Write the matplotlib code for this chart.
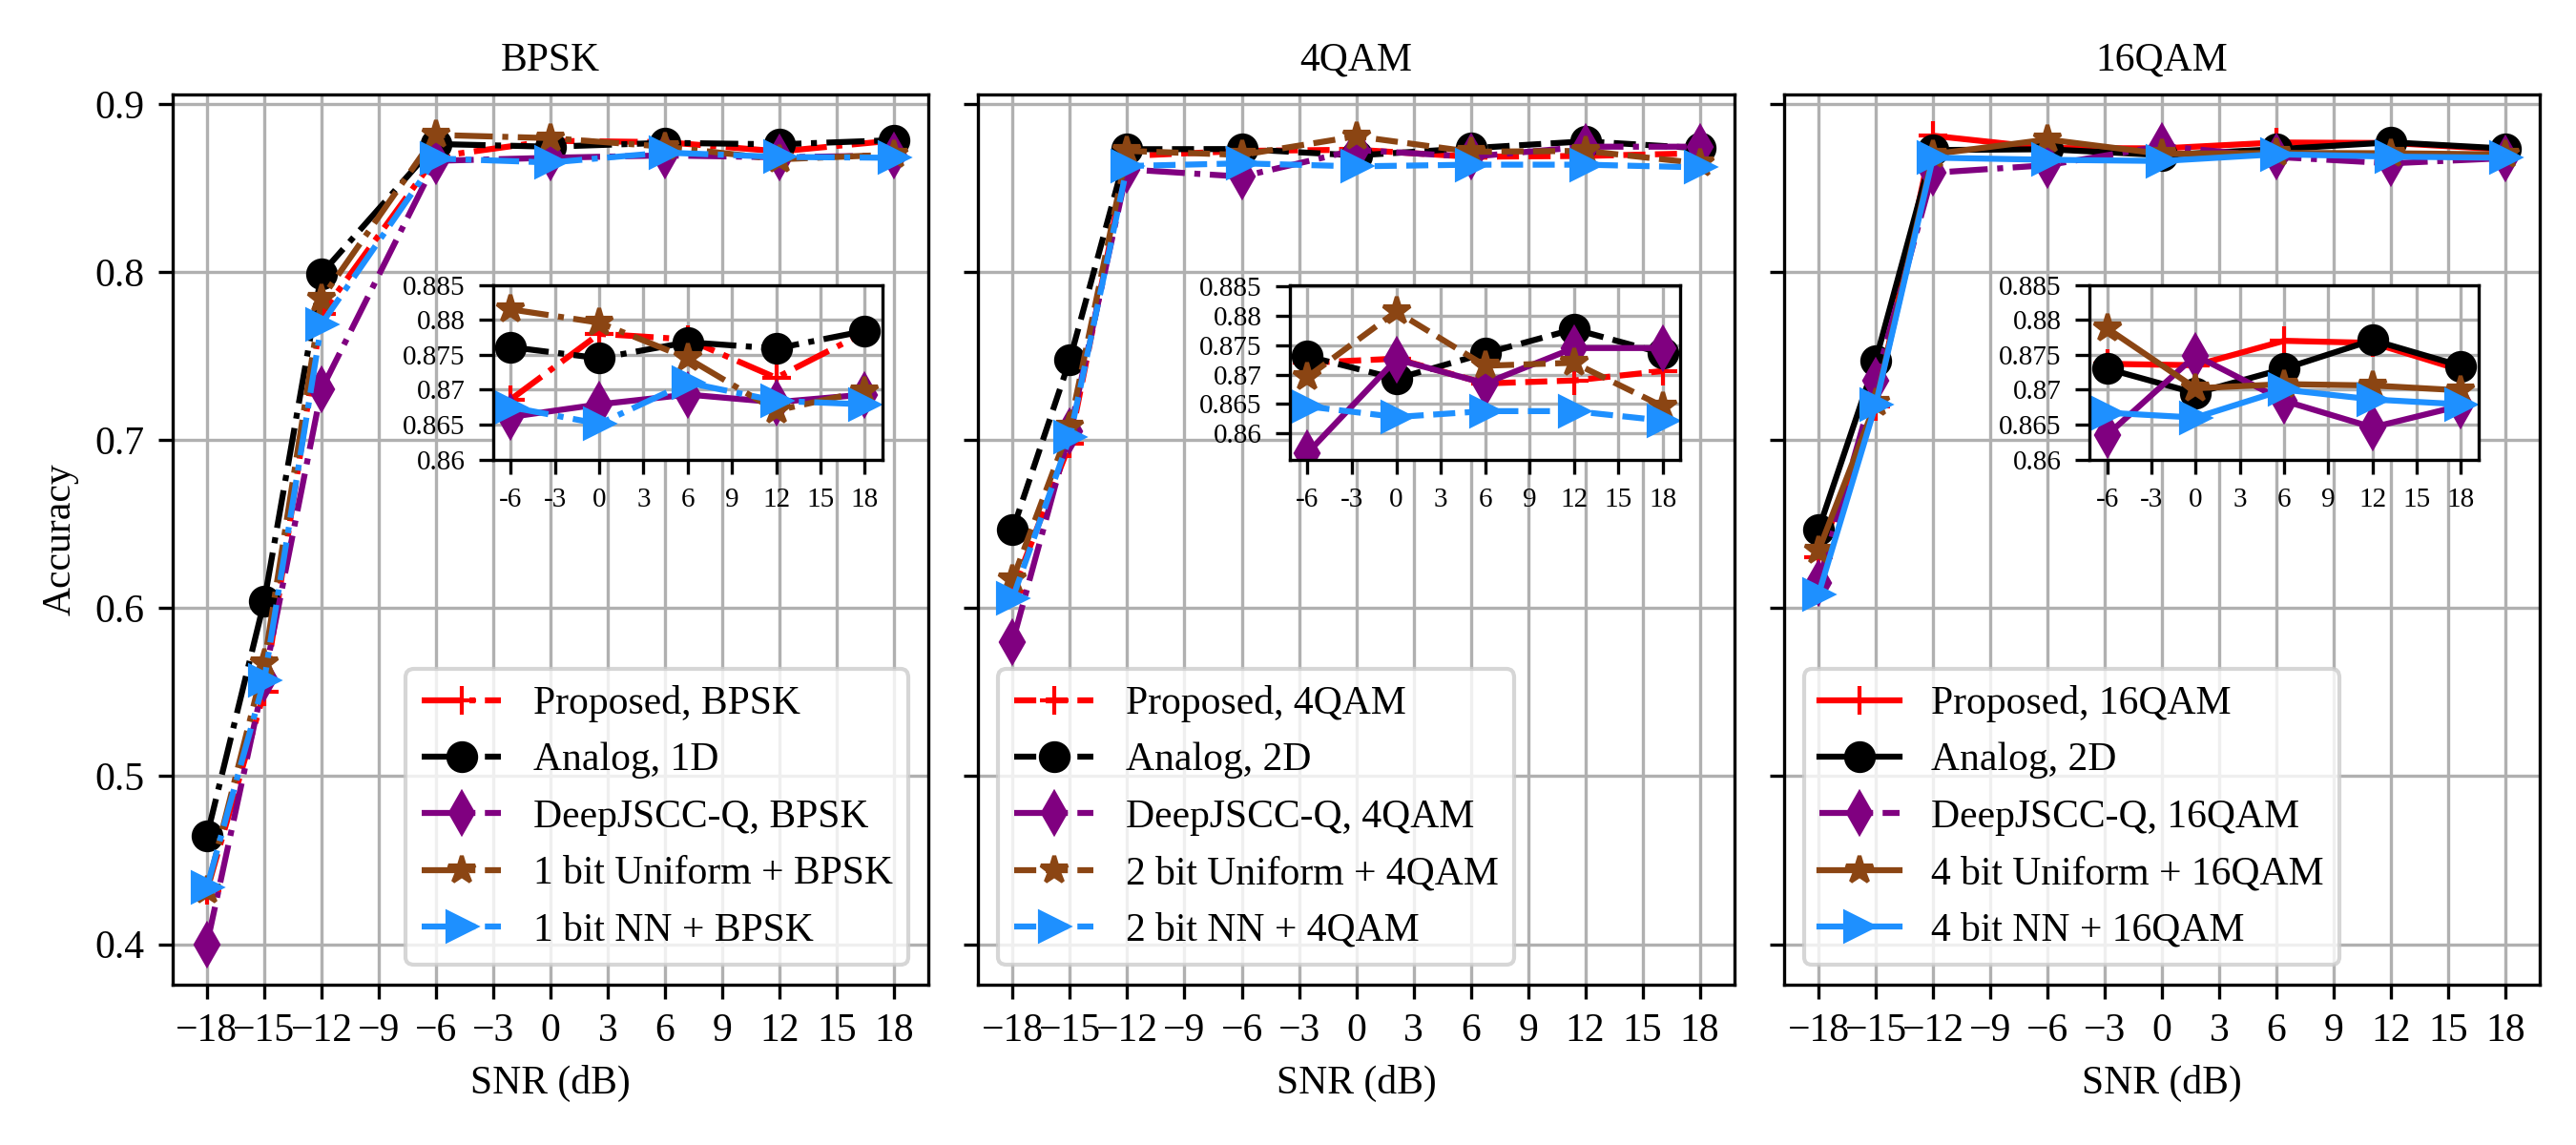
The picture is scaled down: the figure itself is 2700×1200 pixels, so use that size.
import matplotlib
matplotlib.use("Agg")
import matplotlib.pyplot as plt

plt.rcParams['font.family'] = ['Liberation Serif', 'DejaVu Serif']
plt.rcParams['font.size'] = 10

# SNR points (dB)
snr = [-18, -15, -12, -6, 0, 6, 12, 18]
snr_ticks = [-18, -15, -12, -9, -6, -3, 0, 3, 6, 9, 12, 15, 18]
zoom_ticks = [-6, -3, 0, 3, 6, 9, 12, 15, 18]
zoom_tick_labels = ['-6', '-3', '0', '3', '6', '9', '12', '15', '18']
zoom_yticks = [0.86, 0.865, 0.87, 0.875, 0.88, 0.885]
zoom_ytick_labels = ['0.86', '0.865', '0.87', '0.875', '0.88', '0.885']

# --- BPSK ---
proposed_bpsk = [0.432, 0.550, 0.775, 0.8686, 0.8780, 0.8772, 0.8717, 0.8782]
analog_1d = [0.4644, 0.604, 0.799, 0.8761, 0.8745, 0.8768, 0.8759, 0.8784]
deepjscc_bpsk = [0.400, 0.558, 0.730, 0.8661, 0.8679, 0.8693, 0.8682, 0.8693]
uniform_bpsk = [0.432, 0.567, 0.784, 0.8815, 0.8796, 0.8745, 0.8670, 0.8698]
nn_bpsk = [0.434, 0.557, 0.769, 0.8675, 0.8651, 0.8710, 0.8684, 0.8679]

# --- 4QAM ---
proposed_4qam = [0.610, 0.698, 0.869, 0.8720, 0.8727, 0.8685, 0.8690, 0.8706]
analog_2d_4qam = [0.6465, 0.748, 0.8730, 0.8731, 0.8693, 0.8736, 0.8777, 0.8736]
deepjscc_4qam = [0.580, 0.705, 0.861, 0.8567, 0.8726, 0.8685, 0.8745, 0.8745]
uniform_4qam = [0.617, 0.708, 0.872, 0.8696, 0.8807, 0.8715, 0.8720, 0.8646]
nn_4qam = [0.606, 0.702, 0.863, 0.8646, 0.8628, 0.8638, 0.8638, 0.8622]

# --- 16QAM ---
proposed_16qam = [0.630, 0.720, 0.881, 0.8737, 0.8735, 0.8770, 0.8767, 0.8728]
analog_2d_16qam = [0.6465, 0.7474, 0.8725, 0.8730, 0.8695, 0.8730, 0.8771, 0.8734]
deepjscc_16qam = [0.615, 0.735, 0.859, 0.8635, 0.8749, 0.8684, 0.8646, 0.8677]
uniform_16qam = [0.634, 0.722, 0.870, 0.8788, 0.8702, 0.8708, 0.8706, 0.8699]
nn_16qam = [0.608, 0.721, 0.868, 0.8667, 0.8660, 0.8700, 0.8686, 0.8679]

colors = ['red', 'black', 'purple', '#8B4513', '#1E90FF']
markers = ['+', 'o', 'd', '*', '>']

panels = [
    {
        'title': 'BPSK',
        'series': [proposed_bpsk, analog_1d, deepjscc_bpsk, uniform_bpsk, nn_bpsk],
        'labels': ['Proposed, BPSK', 'Analog, 1D', 'DeepJSCC-Q, BPSK',
                   '1 bit Uniform + BPSK', '1 bit NN + BPSK'],
        'styles': ['-.', '-.', '-.', '-.', '-.'],
        'zoom_styles': ['-.', '-.', '-', '-.', '-.'],
        'legend_loc': 'lower right',
        'zoom_box': [0.424, 0.59, 0.515, 0.196],
        'zoom_ylim': (0.86, 0.885),
    },
    {
        'title': '4QAM',
        'series': [proposed_4qam, analog_2d_4qam, deepjscc_4qam, uniform_4qam, nn_4qam],
        'labels': ['Proposed, 4QAM', 'Analog, 2D', 'DeepJSCC-Q, 4QAM',
                   '2 bit Uniform + 4QAM', '2 bit NN + 4QAM'],
        'styles': ['--', '--', '-.', '--', '--'],
        'zoom_styles': ['--', '--', '-', '--', '--'],
        'legend_loc': 'lower left',
        'zoom_box': [0.412, 0.59, 0.517, 0.196],
        'zoom_ylim': (0.8556, 0.8852),
    },
    {
        'title': '16QAM',
        'series': [proposed_16qam, analog_2d_16qam, deepjscc_16qam, uniform_16qam, nn_16qam],
        'labels': ['Proposed, 16QAM', 'Analog, 2D', 'DeepJSCC-Q, 16QAM',
                   '4 bit Uniform + 16QAM', '4 bit NN + 16QAM'],
        'styles': ['-', '-', '-.', '-', '-'],
        'zoom_styles': ['-', '-', '-', '-', '-'],
        'legend_loc': 'lower left',
        'zoom_box': [0.404, 0.59, 0.515, 0.196],
        'zoom_ylim': (0.86, 0.885),
    },
]

fig, axes = plt.subplots(1, 3, figsize=(9, 4), dpi=300, sharey=True)
fig.subplots_adjust(left=0.067, right=0.986, bottom=0.14, top=0.9175, wspace=0.066)

for ax, p in zip(axes, panels):
    for vals, lab, col, mk, ls in zip(p['series'], p['labels'], colors, markers, p['styles']):
        ax.plot(snr, vals, linestyle=ls, marker=mk, color=col, label=lab,
                linewidth=1.5, markersize=7)
    ax.set_title(p['title'], fontsize=10)
    ax.set_xticks(snr_ticks)
    ax.set_xlabel('SNR (dB)')
    ax.grid(True)
    ax.legend(loc=p['legend_loc'])

    # zoomed view of the high-SNR region
    axin = ax.inset_axes(p['zoom_box'])
    for vals, col, mk, ls in zip(p['series'], colors, markers, p['zoom_styles']):
        axin.plot(snr[3:], vals[3:], linestyle=ls, marker=mk, color=col,
                  linewidth=1.5, markersize=7)
    axin.set_xticks(zoom_ticks)
    axin.set_xticklabels(zoom_tick_labels, fontsize=7)
    axin.set_yticks(zoom_yticks)
    axin.set_yticklabels(zoom_ytick_labels, fontsize=7)
    axin.set_ylim(*p['zoom_ylim'])
    axin.grid(True)

axes[0].set_ylabel('Accuracy')

fig.savefig('out.png', dpi=300)
